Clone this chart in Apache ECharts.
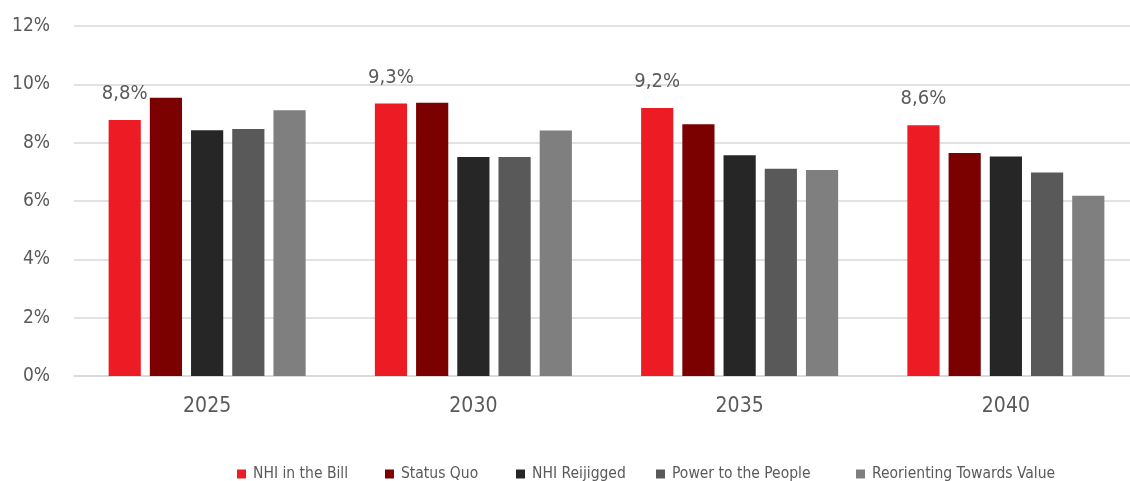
<!DOCTYPE html>
<html>
<head>
<meta charset="utf-8">
<style>
  html, body { margin: 0; padding: 0; background: #ffffff; overflow: hidden; }
  /* plot area runs slightly past the right edge of the page */
  #chart { width: 1139px; height: 481px; }
</style>
<script src="https://cdn.jsdelivr.net/npm/echarts@6/dist/echarts.min.js"></script>
</head>
<body>
<div id="chart"></div>
<script>
// Years on the x axis
const years = ['2025', '2030', '2035', '2040'];

// Scenario names (legend order)
const scenarios = ['NHI in the Bill', 'Status Quo', 'NHI Reijigged', 'Power to the People', 'Reorienting Towards Value'];

// Values per scenario, in percent
const nhiInTheBill = [8.78, 9.34, 9.19, 8.6];
const statusQuo = [9.54, 9.37, 8.63, 7.65];
const nhiReijigged = [8.43, 7.51, 7.57, 7.53];
const powerToThePeople = [8.47, 7.51, 7.11, 6.98];
const reorientingTowardsValue = [9.11, 8.42, 7.06, 6.18];

// Y axis ticks
const yMin = 0, yMax = 12, yStep = 2;

const seriesValues = [nhiInTheBill, statusQuo, nhiReijigged, powerToThePeople, reorientingTowardsValue];
const colors = ['#ED1C24', '#7B0000', '#262626', '#595959', '#7F7F7F'];
const legendLeft = [237, 385, 516, 656, 856];

const FONT = "'Liberation Sans Narrow', 'DejaVu Sans Condensed', sans-serif";
const TEXT = '#5a5a5a';

const chart = echarts.init(document.getElementById('chart'), null, { renderer: 'canvas' });

const series = scenarios.map((name, i) => ({
  name: name,
  type: 'bar',
  data: seriesValues[i],
  itemStyle: { color: colors[i] },
  barGap: '28%',
  barCategoryGap: '26%',
  label: i === 0 ? {
    show: true,
    position: 'top',
    distance: 15,
    fontFamily: FONT,
    fontSize: 20,
    lineHeight: 22,
    color: TEXT,
    formatter: p => p.value.toFixed(1).replace('.', ',') + '%'
  } : { show: false },
  emphasis: { disabled: true }
}));

const legends = scenarios.map((name, i) => ({
  data: [name],
  left: legendLeft[i],
  top: 466,
  icon: 'rect',
  itemWidth: 9,
  itemHeight: 9,
  itemGap: 0,
  padding: 0,
  selectedMode: false,
  textStyle: { fontFamily: FONT, fontSize: 15.5, color: TEXT, padding: [0, 0, 0, 2] }
}));

chart.setOption({
  animation: false,
  backgroundColor: '#ffffff',
  color: colors,
  grid: { left: 74, right: 0, top: 26, bottom: 105, containLabel: false },
  legend: legends,
  xAxis: {
    type: 'category',
    data: years,
    axisTick: { show: false },
    axisLine: { lineStyle: { color: '#d9d9d9', width: 1.5 } },
    axisLabel: { margin: 20, fontFamily: FONT, fontSize: 21, color: TEXT }
  },
  yAxis: {
    type: 'value',
    min: yMin,
    max: yMax,
    interval: yStep,
    axisLine: { show: false },
    axisTick: { show: false },
    splitLine: { lineStyle: { color: '#d9d9d9', width: 1.5 } },
    axisLabel: { margin: 24, fontFamily: FONT, fontSize: 19, color: TEXT, formatter: '{value}%' }
  },
  series: series
});
</script>
</body>
</html>
